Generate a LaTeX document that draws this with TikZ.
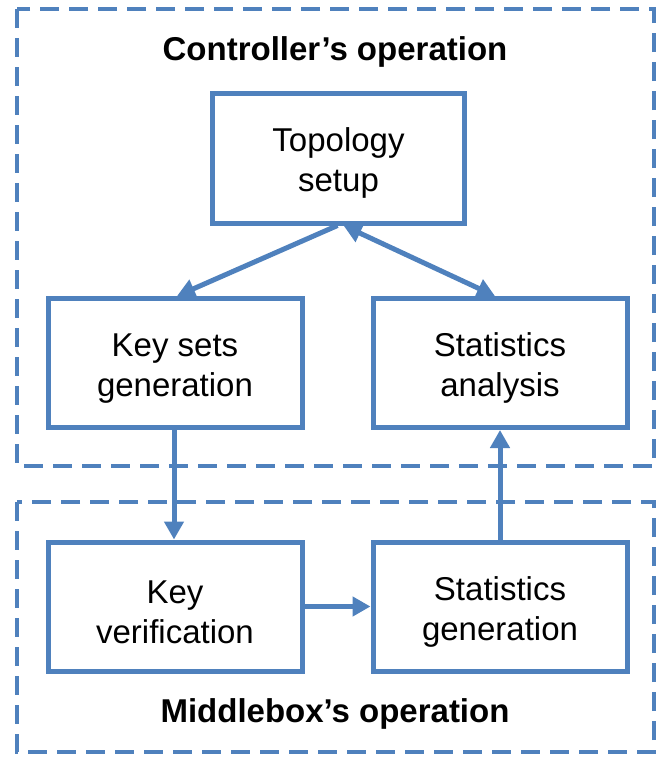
\documentclass[tikz,border=0pt]{standalone}
\usepackage{fontspec}
\setmainfont{Liberation Sans}
\usetikzlibrary{arrows.meta,calc}
\definecolor{boxblue}{HTML}{4F81BD}
% taller first line pushes the two-line labels slightly down in their boxes
\newcommand{\toppad}{\rule{0pt}{34pt}}
\begin{document}
\begin{tikzpicture}[x=1pt,y=-1pt,
  stepbox/.style={draw=boxblue,line width=5pt,rectangle,align=center,
    minimum width=254pt,minimum height=129pt,inner sep=0pt,
    font=\fontsize{33}{40}\selectfont},
  groupbox/.style={draw=boxblue,line width=3.5pt,dash pattern=on 19pt off 10pt},
  title/.style={anchor=base,font=\fontsize{33}{40}\selectfont\bfseries},
  arr/.style={draw=boxblue,line width=5pt,-{Triangle[length=18pt,width=19pt]}},
  biarr/.style={draw=boxblue,line width=5pt,{Triangle[length=18pt,width=19pt]}-{Triangle[length=18pt,width=19pt]}}]
\useasboundingbox (0,0) rectangle (664,758);

% operation groups
\draw[groupbox] (17,9) rectangle (654,466);
\draw[groupbox] (17,502) rectangle (654,752);
\node[title] (ctitle) at (335,60) {Controller’s operation};
\node[title] (mtitle) at (335,722) {Middlebox’s operation};

% processing steps
\node[stepbox,minimum width=252pt,minimum height=130pt] (topo) at (338.5,158) {\toppad Topology\\setup};
\node[stepbox] (keys) at (175,363) {\toppad Key sets\\generation};
\node[stepbox] (stats) at (500,363) {\toppad Statistics\\analysis};
\node[stepbox] (kver) at (175,606.5) {\toppad Key\\verification};
\node[stepbox] (sgen) at (500,606.5) {\toppad Statistics\\generation};

% data flow
\draw[arr] ([xshift=-1pt]topo.south) -- ([xshift=2pt]keys.north);
\draw[biarr] ([xshift=5pt]topo.south) -- ([xshift=-5pt]stats.north);
\draw[arr] ([xshift=-1pt]keys.south) -- ([xshift=-1pt]kver.north);
\draw[arr] (kver.east) -- (sgen.west);
\draw[arr] (sgen.north) -- (stats.south);
\end{tikzpicture}
\end{document}
